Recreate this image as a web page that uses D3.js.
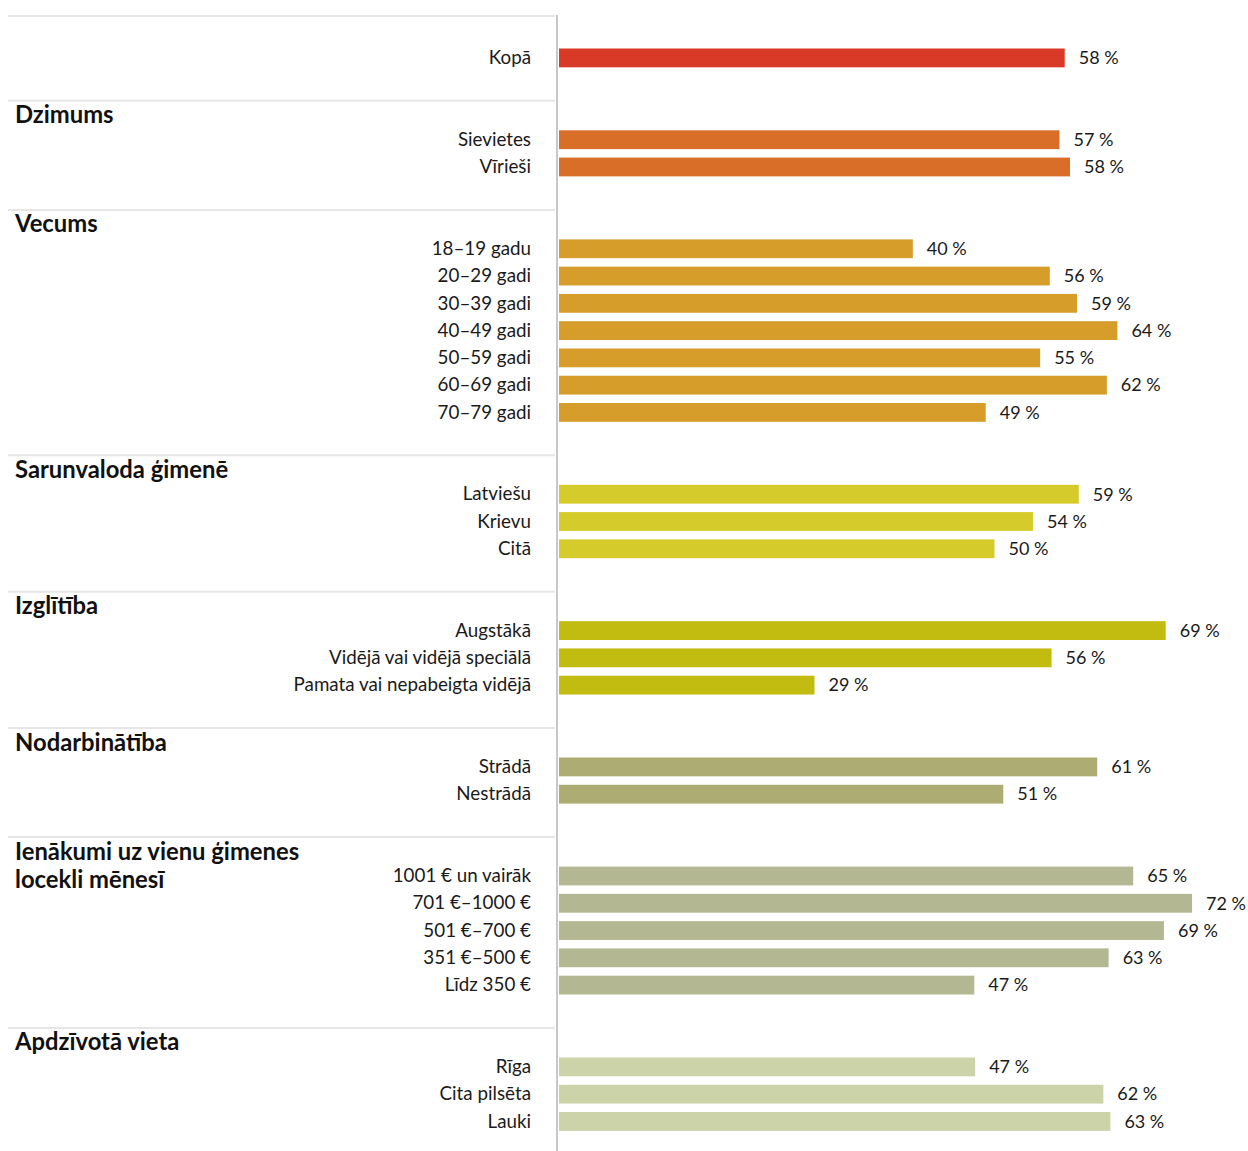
<!DOCTYPE html>
<html><head><meta charset="utf-8">
<script src="https://cdn.jsdelivr.net/npm/d3@7"></script>
<style>
html,body{margin:0;padding:0;background:#fff;}
svg{display:block;font-family:Lato,"Open Sans",sans-serif;}
</style></head>
<body>
<svg id="chart" width="1248" height="1151"></svg>
<script>
// ---- data ----
const groupNames = ["", "Dzimums", "Vecums", "Sarunvaloda ģimenē", "Izglītība", "Nodarbinātība", "Ienākumi uz vienu ģimenes locekli mēnesī", "Apdzīvotā vieta"];
const categories = [
  ["Kopā"],
  ["Sievietes", "Vīrieši"],
  ["18–19 gadu", "20–29 gadi", "30–39 gadi", "40–49 gadi", "50–59 gadi", "60–69 gadi", "70–79 gadi"],
  ["Latviešu", "Krievu", "Citā"],
  ["Augstākā", "Vidējā vai vidējā speciālā", "Pamata vai nepabeigta vidējā"],
  ["Strādā", "Nestrādā"],
  ["1001 € un vairāk", "701 €–1000 €", "501 €–700 €", "351 €–500 €", "Līdz 350 €"],
  ["Rīga", "Cita pilsēta", "Lauki"]
];
const values = [
  [57.6],
  [57.0, 58.2],
  [40.3, 55.9, 59.0, 63.6, 54.8, 62.4, 48.6],
  [59.2, 54.0, 49.6],
  [69.1, 56.1, 29.1],
  [61.3, 50.6],
  [65.4, 72.1, 68.9, 62.6, 47.3],
  [47.4, 62.0, 62.8]
];
const groupColors = ["#D93A27", "#D96E28", "#D69D2A", "#D5CC2C", "#C3BC10", "#ADAC73", "#B3B892", "#CDD3A8"];

// ---- layout ----
const svg = d3.select("#chart");
const W = 1248, H = 1151;
const rowStep = 27.27, topY = 17;

// build row list: header row, items, blank row per group
const rows = [];
const groupStarts = [];
groupNames.forEach((g, gi) => {
  groupStarts.push(rows.length);
  rows.push({type: "header", gi});
  categories[gi].forEach((c, ci) => rows.push({type: "item", gi, label: c, value: values[gi][ci]}));
  rows.push({type: "blank", gi});
});
const nRows = rows.length;

const y = d3.scaleBand()
  .domain(d3.range(nRows))
  .range([topY, topY + nRows * rowStep])
  .paddingInner(0.31)
  .paddingOuter(0.155);

const x = d3.scaleLinear().domain([0, 100]).range([559, 559 + 878]);

const boundary = i => topY + i * rowStep;

// separators
svg.append("g").selectAll("line")
  .data(groupStarts)
  .join("line")
  .attr("x1", 8).attr("x2", 555)
  .attr("y1", (d, i) => boundary(d) + (i === 0 ? -1 : 2))
  .attr("y2", (d, i) => boundary(d) + (i === 0 ? -1 : 2))
  .attr("stroke", "#e6e6e6").attr("stroke-width", 2);

// vertical axis line
svg.append("line")
  .attr("x1", 557).attr("x2", 557)
  .attr("y1", topY - 2).attr("y2", H)
  .attr("stroke", "#c8c8c8").attr("stroke-width", 2);

// headers
const headers = svg.append("g").selectAll("text")
  .data(groupNames.map((g, gi) => ({g, gi})).filter(d => d.g))
  .join("text")
  .attr("x", 15)
  .attr("y", d => boundary(groupStarts[d.gi]) + 24.5)
  .attr("font-size", 23.8).attr("font-weight", 700).attr("fill", "#111");

headers.each(function(d) {
  const t = d3.select(this);
  const words = d.g.split(" ");
  let line = [];
  let tspan = t.append("tspan").attr("x", 15).attr("dy", 0);
  words.forEach(w => {
    line.push(w);
    tspan.text(line.join(" "));
    if (tspan.node().getComputedTextLength() > 330 && line.length > 1) {
      line.pop();
      tspan.text(line.join(" "));
      line = [w];
      tspan = t.append("tspan").attr("x", 15).attr("dy", 28).text(w);
    }
  });
});

const items = rows.map((r, i) => ({...r, i})).filter(r => r.type === "item");

// item labels
svg.append("g").selectAll("text")
  .data(items)
  .join("text")
  .attr("x", 531)
  .attr("y", d => y(d.i) + y.bandwidth() / 2)
  .attr("dy", "0.33em")
  .attr("text-anchor", "end")
  .attr("font-size", 18.8).attr("fill", "#1a1a1a")
  .text(d => d.label);

// bars
svg.append("g").selectAll("rect")
  .data(items)
  .join("rect")
  .attr("x", x(0))
  .attr("y", d => y(d.i))
  .attr("width", d => x(d.value) - x(0))
  .attr("height", y.bandwidth())
  .attr("fill", d => groupColors[d.gi]);

// value labels
svg.append("g").selectAll("text")
  .data(items)
  .join("text")
  .attr("x", d => x(d.value) + 14)
  .attr("y", d => y(d.i) + y.bandwidth() / 2)
  .attr("dy", "0.35em")
  .attr("font-size", 18).attr("fill", "#1a1a1a")
  .text(d => Math.round(d.value) + " %");
</script>
</body></html>
